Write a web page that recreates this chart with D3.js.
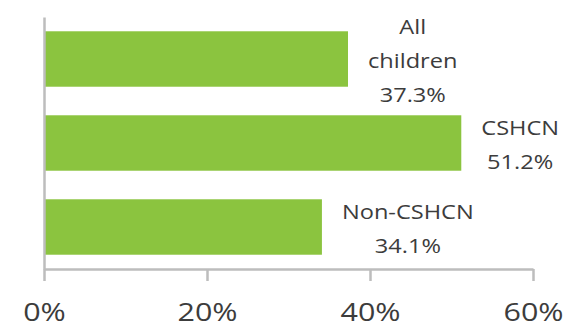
<!DOCTYPE html>
<html>
<head>
<meta charset="utf-8">
<script src="https://cdn.jsdelivr.net/npm/d3@7"></script>
<style>
  html, body { margin: 0; padding: 0; background: #fff; }
  svg { display: block; }
  text { font-family: "Open Sans", sans-serif; }
</style>
</head>
<body>
<svg id="chart" width="570" height="328"></svg>
<script>
// ---- data ----
const categories = ["All children", "CSHCN", "Non-CSHCN"];
const labelLines = [["All", "children"], ["CSHCN"], ["Non-CSHCN"]];
const values = [37.3, 51.2, 34.1];
const tickValues = [0, 20, 40, 60];
const tickLabels = ["0%", "20%", "40%", "60%"];

// ---- chart ----
const svg = d3.select("#chart");
const green = "#8bc43f";
const axisColor = "#bdbdbd";
const textColor = "#3c3c3c";

const x = d3.scaleLinear().domain([0, 60]).range([44, 533]);
const y = d3.scaleBand().domain(categories).range([17, 269])
  .paddingInner(0.34).paddingOuter(0.17);

// bars
svg.append("g").selectAll("rect")
  .data(categories)
  .join("rect")
  .attr("x", x(0))
  .attr("y", d => y(d))
  .attr("width", (d, i) => x(values[i]) - x(0))
  .attr("height", y.bandwidth())
  .attr("fill", green);

// left axis (line only)
const yAxis = svg.append("g")
  .attr("transform", `translate(${x(0)},0)`)
  .call(d3.axisLeft(y).tickSize(0).tickSizeOuter(0).tickFormat(""));
yAxis.select(".domain").attr("stroke", axisColor).attr("stroke-width", 2.5);

// bottom axis
const xAxis = svg.append("g")
  .attr("transform", `translate(0,${y.range()[1]})`)
  .call(d3.axisBottom(x).tickValues(tickValues).tickSize(12).tickSizeOuter(0)
    .tickFormat((d, i) => tickLabels[i]));
xAxis.select(".domain").attr("stroke", axisColor).attr("stroke-width", 2.5);
xAxis.selectAll(".tick line").attr("stroke", axisColor).attr("stroke-width", 2.5);
xAxis.selectAll(".tick text")
  .attr("y", 52).attr("dy", 0)
  .attr("fill", textColor)
  .style("font-size", "25px")
  .attr("transform", "scale(1.22,1)");

// data labels
const lineH = 34;
const gap = 20;
categories.forEach((c, i) => {
  const lines = labelLines[i].concat([values[i].toFixed(1) + "%"]);
  const cy = y(c) + y.bandwidth() / 2 + 2;
  const g = svg.append("g");
  const texts = lines.map((t, k) => g.append("text")
    .text(t)
    .attr("fill", textColor)
    .style("font-size", "20px")
    .attr("text-anchor", "middle")
    .attr("y", (k - (lines.length - 1) / 2) * lineH + 7));
  const maxW = d3.max(texts, t => t.node().getComputedTextLength());
  texts.forEach(t => t.attr("x", maxW / 2));
  g.attr("transform", `translate(${x(values[i]) + gap},${cy}) scale(1.18,1)`);
});
</script>
</body>
</html>
